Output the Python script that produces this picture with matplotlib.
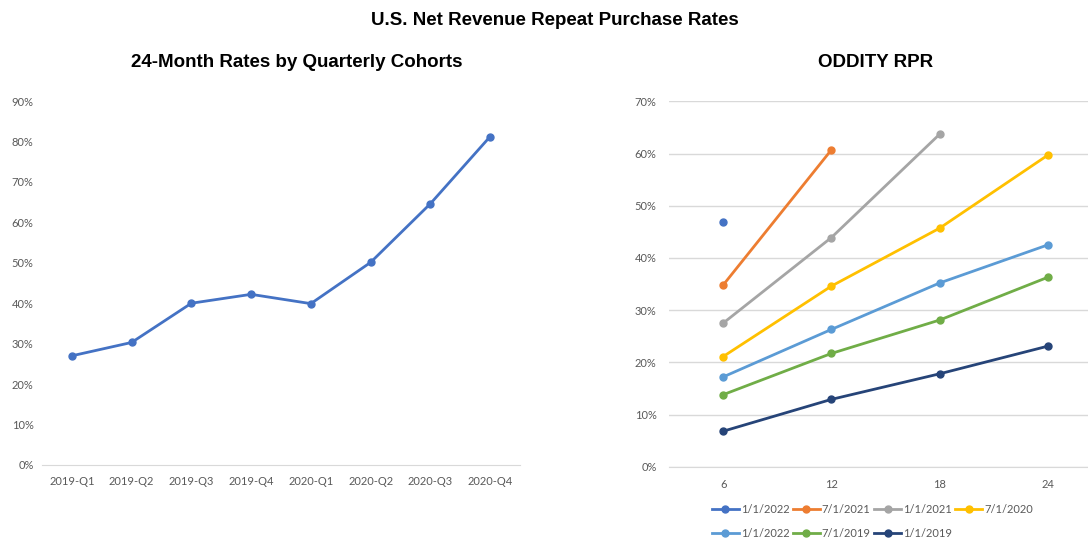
import matplotlib
matplotlib.use("Agg")
import matplotlib.pyplot as plt
from matplotlib.ticker import PercentFormatter, FixedLocator

# ── data ──────────────────────────────────────────────────────────────────────
quarters = ["2019-Q1", "2019-Q2", "2019-Q3", "2019-Q4",
            "2020-Q1", "2020-Q2", "2020-Q3", "2020-Q4"]
rate_24m = [27.0, 30.3, 40.0, 42.2, 39.9, 50.1, 64.6, 81.2]

months = ["6", "12", "18", "24"]
cohort_labels = ["1/1/2022", "7/1/2021", "1/1/2021", "7/1/2020",
                 "1/1/2022", "7/1/2019", "1/1/2019"]
cohort_values = [
    [46.9],
    [34.8, 60.7],
    [27.5, 43.9, 63.7],
    [21.1, 34.6, 45.7, 59.7],
    [17.2, 26.3, 35.2, 42.5],
    [13.8, 21.7, 28.1, 36.3],
    [6.8, 12.9, 17.8, 23.1],
]
cohort_colors = ["#4472C4", "#ED7D31", "#A5A5A5", "#FFC000",
                 "#5B9BD5", "#70AD47", "#264478"]

# ── styling ───────────────────────────────────────────────────────────────────
TICK_FONT = "Lato"
TITLE_FONT = "Liberation Sans"
TICK_COLOR = "#595959"
GRID_COLOR = "#D9D9D9"
TICK_SIZE = 8

fig = plt.figure(figsize=(10.88, 5.4), dpi=100)
fig.text(0.51, 0.962, "U.S. Net Revenue Repeat Purchase Rates", ha="center",
         va="center", fontsize=13.5, fontweight="bold", family=TITLE_FONT)


def style_axes(ax):
    for side in ("top", "right", "left"):
        ax.spines[side].set_visible(False)
    ax.spines["bottom"].set_color(GRID_COLOR)
    ax.tick_params(length=0, labelsize=TICK_SIZE, labelcolor=TICK_COLOR, pad=8)
    for lbl in ax.get_xticklabels() + ax.get_yticklabels():
        lbl.set_family(TICK_FONT)
    ax.yaxis.set_major_formatter(PercentFormatter(decimals=0))


# left: 24-month rates
ax1 = fig.add_axes([0.0386, 0.1389, 0.4393, 0.674])
x1 = list(range(len(quarters)))
ax1.plot(x1, rate_24m, color="#4472C4", lw=2, marker="o", ms=5)
ax1.set_xlim(-0.5, len(quarters) - 0.5)
ax1.set_ylim(0, 90)
ax1.yaxis.set_major_locator(FixedLocator(range(0, 91, 10)))
ax1.set_xticks(x1)
ax1.set_xticklabels(quarters)
style_axes(ax1)
ax1.tick_params(axis="y", pad=6)
fig.text(0.2725, 0.885, "24-Month Rates by Quarterly Cohorts", ha="center",
         va="center", fontsize=13.5, fontweight="bold", family=TITLE_FONT)

# right: ODDITY RPR
ax2 = fig.add_axes([0.6149, 0.1357, 0.398, 0.6767])
for label, vals, color in zip(cohort_labels, cohort_values, cohort_colors):
    ax2.plot(range(len(vals)), vals, color=color, lw=2, marker="o", ms=5,
             label=label)
ax2.set_xlim(-0.5, len(months) - 0.5)
ax2.set_ylim(0, 70)
ax2.yaxis.set_major_locator(FixedLocator(range(0, 71, 10)))
ax2.set_xticks(range(len(months)))
ax2.set_xticklabels(months)
ax2.grid(axis="y", color=GRID_COLOR, lw=1)
ax2.set_axisbelow(True)
style_axes(ax2)
ax2.tick_params(axis="y", pad=9)
ax2.tick_params(axis="x", pad=9)
fig.text(0.805, 0.885, "ODDITY RPR", ha="center", va="center", fontsize=13.5,
         fontweight="bold", family=TITLE_FONT)

# legend: row-major order for 4 columns
handles, labels = ax2.get_legend_handles_labels()
order = [0, 4, 1, 5, 2, 6, 3]
leg = fig.legend([handles[i] for i in order], [labels[i] for i in order],
                 ncol=4, loc="center", bbox_to_anchor=(0.802, 0.034),
                 frameon=False, handlelength=2.4,
                 handletextpad=0.2, columnspacing=0.3, labelspacing=1.2,
                 prop={"family": TICK_FONT, "size": TICK_SIZE})
for t in leg.get_texts():
    t.set_color(TICK_COLOR)

fig.savefig("out.png", dpi=100)
